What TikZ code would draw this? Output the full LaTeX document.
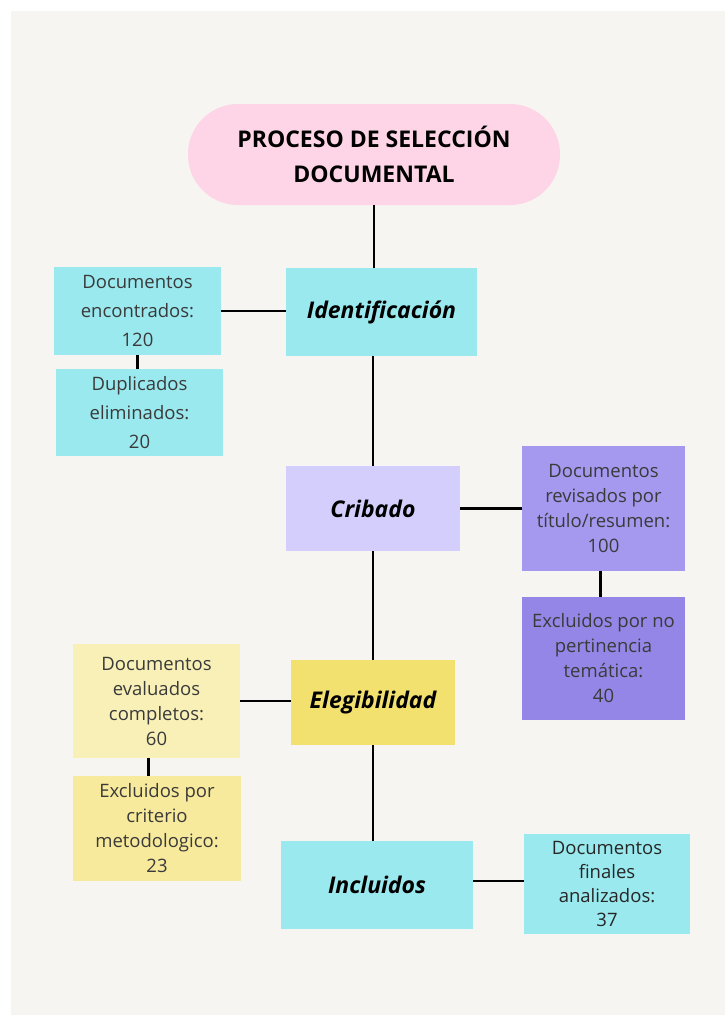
\documentclass[tikz,border=0pt]{standalone}
\usepackage{fontspec}
\setmainfont{Open Sans}
\definecolor{bgc}{HTML}{F7F5F2}
\definecolor{pinkc}{HTML}{FDD5E6}
\definecolor{cyanc}{HTML}{9AE9EE}
\definecolor{lavc}{HTML}{D4CEFC}
\definecolor{purpa}{HTML}{A598EF}
\definecolor{purpb}{HTML}{9486E6}
\definecolor{yelc}{HTML}{F2E16F}
\definecolor{yelb}{HTML}{F8F0B7}
\definecolor{yeld}{HTML}{F7EA9C}
\definecolor{txtg}{HTML}{3A3A3A}
\tikzset{
  box/.style={draw=none, inner sep=0pt, align=center},
  head/.style={box, font=\fontsize{23}{27}\selectfont\bfseries\itshape, text=black},
  info/.style={box, font=\fontsize{18.5}{25}\selectfont, text=txtg},
  infow/.style={box, font=\fontsize{18.5}{29}\selectfont, text=txtg},
  conn/.style={line width=2.8pt, black}
}
\begin{document}
\begin{tikzpicture}[x=1pt,y=-1pt]
\useasboundingbox (0,0) rectangle (725,1015);
\fill[white] (0,0) rectangle (725,1015);
\fill[bgc] (11,11) rectangle (725,1015);

\node[box, fill=pinkc, minimum width=372pt, minimum height=101pt, rounded corners=50pt,
  font=\fontsize{23}{35}\selectfont\bfseries, text=black] (title) at (374,154.5)
  {PROCESO DE SELECCIÓN\\DOCUMENTAL};

\node[head, fill=cyanc, minimum width=191pt, minimum height=88pt] (ident) at (381.5,312) {\raisebox{3pt}{Identificación}};
\node[infow, fill=cyanc, minimum width=167pt, minimum height=88pt] (enc) at (137.5,311) {Documentos\\encontrados:\\120};
\node[infow, fill=cyanc, minimum width=167pt, minimum height=87pt] (dup) at (139.5,412.5) {Duplicados\\eliminados:\\20};

\node[head, fill=lavc, minimum width=174pt, minimum height=85pt] (crib) at (373,508.5) {Cribado};
\node[info, fill=purpa, minimum width=163pt, minimum height=125pt] (rev) at (603.5,508.5) {Documentos\\revisados por\\título/resumen:\\100};
\node[info, fill=purpb, minimum width=163pt, minimum height=123pt] (exa) at (603.5,658.5) {Excluidos por no\\pertinencia\\temática:\\40};

\node[head, fill=yelc, minimum width=164pt, minimum height=85pt] (eleg) at (373,702.5) {Elegibilidad};
\node[info, fill=yelb, minimum width=167pt, minimum height=114pt] (eval) at (156.5,701) {Documentos\\evaluados\\completos:\\60};
\node[info, fill=yeld, minimum width=168pt, minimum height=105pt] (exb) at (157,828.5) {Excluidos por\\criterio\\metodologico:\\23};

\node[head, fill=cyanc, minimum width=192pt, minimum height=88pt] (incl) at (377,885) {Incluidos};
\node[box, fill=cyanc, minimum width=166pt, minimum height=100pt, font=\fontsize{18.5}{24}\selectfont, text=black!85] (fin) at (607,884) {Documentos\\finales\\analizados:\\37};

\draw[conn] (title.south) -- (title.south |- ident.north);
\draw[conn] (crib.north) -- (crib.north |- ident.south);
\draw[conn] (crib.south) -- (eleg.north);
\draw[conn] (eleg.south) -- (eleg.south |- incl.north);
\draw[conn] (enc.east) -- (ident.west |- enc.east);
\draw[conn] (enc.south) -- (enc.south |- dup.north);
\draw[conn] (crib.east) -- (rev.west);
\draw[conn] ([xshift=-3pt]rev.south) -- ([xshift=-3pt]rev.south |- exa.north);
\draw[conn] (eval.east) -- (eleg.west |- eval.east);
\draw[conn] ([xshift=-8pt]eval.south) -- ([xshift=-8pt]eval.south |- exb.north);
\draw[conn] ([yshift=4pt]incl.east) -- ([yshift=4pt]incl.east -| fin.west);
\end{tikzpicture}
\end{document}
